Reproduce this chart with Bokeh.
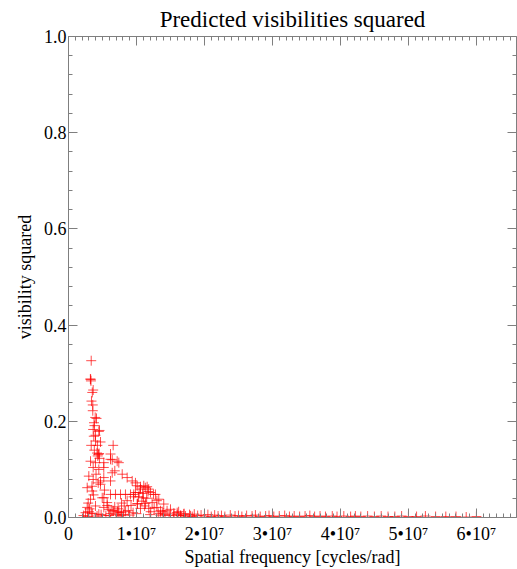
from bokeh.plotting import figure
from bokeh.models import Range1d, LinearAxis, FixedTicker, ColumnDataSource
from bokeh.embed import file_html
from bokeh.resources import INLINE

# Spatial frequency in units of 1e7 cycles/rad, visibility squared
freq_e7 = [
    0.334, 0.322, 0.330, 0.326, 0.350, 0.363, 0.338, 0.357, 0.357, 0.393, 0.412,
    0.375, 0.382, 0.456, 0.363, 0.397, 0.446, 0.372, 0.397, 0.471, 0.334, 0.657,
    0.420, 0.440, 0.450, 0.430, 0.618, 0.618, 0.643, 0.324, 0.397, 0.519, 0.716,
    0.740, 0.363, 0.446, 0.519, 0.643, 0.681, 0.790, 0.863, 0.299, 0.363, 0.519,
    0.471, 0.618, 0.937, 1.010, 0.275, 0.349, 0.529, 0.618, 0.691, 0.765, 0.838,
    0.912, 0.985, 0.324, 0.496, 0.569, 0.275, 0.397, 0.519, 0.593, 0.250, 0.446,
    0.660, 0.720, 0.780, 0.840, 0.700, 0.760, 0.620, 1.010,
    0.985, 1.059, 1.107, 1.157, 1.206, 1.279, 1.328, 1.401, 1.500, 1.599,
    1.696, 1.794, 0.956, 1.030, 1.103, 1.015, 1.132, 1.230, 1.059, 1.180, 1.300,
    1.353, 1.450,
    0.863, 0.960, 1.059, 1.130, 1.180, 1.250, 1.300, 0.470, 0.520, 0.570, 0.640, 0.740,
    0.220, 0.280, 0.300, 0.350, 0.420, 0.480, 0.550, 0.900, 1.000, 1.200, 1.350,
    1.400, 1.480,
    0.290, 0.310, 0.335, 0.345, 0.368, 0.380, 0.405, 0.425, 0.437, 0.455, 0.600,
    0.680, 0.730, 0.810, 0.880, 0.920, 0.950, 1.040, 1.080, 1.120, 1.150, 1.210,
    1.260, 1.320, 1.380, 1.420, 1.550, 1.650, 0.780, 0.820, 1.090, 1.170,
    1.55, 1.60, 1.62, 1.65, 1.70, 1.72, 1.78, 1.82, 1.85, 1.90, 1.95, 2.00, 2.05,
    2.10, 2.15, 2.20, 2.25, 2.30, 2.38, 2.45, 2.50, 2.55, 2.62, 2.70, 2.75, 2.82,
    2.90, 2.95, 3.02, 3.10, 3.18, 3.25, 3.32, 3.40, 3.48, 3.55, 3.62, 3.70, 3.78,
    3.88, 3.95, 4.05, 4.15, 4.22, 4.30, 4.40, 4.50, 4.60, 4.70, 4.80, 4.90, 5.00,
    5.12, 5.25, 5.40, 5.55, 5.70, 5.85, 6.00,
]
vis2 = [
    0.326, 0.288, 0.284, 0.287, 0.260, 0.265, 0.242, 0.234, 0.222, 0.208, 0.206,
    0.197, 0.191, 0.181, 0.183, 0.171, 0.179, 0.169, 0.159, 0.157, 0.150, 0.150,
    0.134, 0.131, 0.133, 0.128, 0.132, 0.121, 0.120, 0.117, 0.114, 0.114, 0.117,
    0.114, 0.104, 0.100, 0.104, 0.093, 0.097, 0.090, 0.083, 0.086, 0.079, 0.083,
    0.076, 0.076, 0.076, 0.066, 0.062, 0.055, 0.057, 0.048, 0.048, 0.048, 0.048,
    0.048, 0.052, 0.038, 0.041, 0.031, 0.021, 0.024, 0.021, 0.017, 0.010, 0.007,
    0.014, 0.012, 0.010, 0.013, 0.006, 0.004, 0.008, 0.028,
    0.072, 0.064, 0.066, 0.064, 0.052, 0.048, 0.038, 0.028, 0.017, 0.010,
    0.007, 0.0035, 0.043, 0.043, 0.041, 0.029, 0.029, 0.031, 0.019, 0.019, 0.021,
    0.014, 0.014,
    0.035, 0.048, 0.059, 0.062, 0.059, 0.048, 0.035, 0.069, 0.041, 0.025, 0.014, 0.010,
    0.004, 0.002, 0.012, 0.008, 0.003, 0.006, 0.004, 0.005, 0.008, 0.006, 0.005,
    0.009, 0.004,
    0.030, 0.018, 0.009, 0.065, 0.047, 0.140, 0.090, 0.150, 0.072, 0.123, 0.004,
    0.022, 0.018, 0.006, 0.014, 0.025, 0.010, 0.052, 0.034, 0.024, 0.040, 0.012,
    0.020, 0.008, 0.012, 0.006, 0.005, 0.004, 0.030, 0.024, 0.050, 0.054,
    0.009, 0.006, 0.012, 0.004, 0.008, 0.003, 0.006, 0.002, 0.007, 0.004, 0.005,
    0.003, 0.006, 0.002, 0.005, 0.003, 0.004, 0.002, 0.005, 0.003, 0.004, 0.002,
    0.004, 0.003, 0.005, 0.002, 0.003, 0.004, 0.002, 0.003, 0.004, 0.002, 0.003,
    0.002, 0.003, 0.004, 0.002, 0.003, 0.002, 0.003, 0.002, 0.003, 0.002, 0.003,
    0.002, 0.003, 0.002, 0.003, 0.002, 0.002, 0.003, 0.002, 0.002, 0.003, 0.002,
    0.002, 0.002, 0.001, 0.002,
]

x_ticks = [0, 1e7, 2e7, 3e7, 4e7, 5e7, 6e7]
x_tick_labels = ["0", "1•10⁷", "2•10⁷", "3•10⁷", "4•10⁷", "5•10⁷", "6•10⁷"]
y_ticks = [0.0, 0.2, 0.4, 0.6, 0.8, 1.0]
y_tick_labels = ["0.0", "0.2", "0.4", "0.6", "0.8", "1.0"]

freq = [f * 1e7 for f in freq_e7]
src = ColumnDataSource(dict(x=freq, y=vis2))

FONT = "Liberation Serif"
AXIS_COLOR = "#7f7f7f"

p = figure(width=517, height=569, output_backend="svg", toolbar_location=None,
           x_range=Range1d(0, 6.59e7), y_range=Range1d(0, 1.0),
           x_axis_location=None, y_axis_location=None,
           min_border_left=68, min_border_right=1, min_border_top=0,
           min_border_bottom=49, outline_line_color=None,
           title="Predicted visibilities squared")
p.title.text_font = FONT
p.title.text_font_size = "23px"
p.title.text_font_style = "normal"
p.title.align = "center"
p.title.text_color = "black"
p.title.offset = 0
p.title.standoff = 9
p.grid.visible = False

x_minor = [i * 1e6 for i in range(0, 66)]
y_minor = [i * 0.04 for i in range(0, 26)]

def style(ax, labels):
    ax.axis_line_color = AXIS_COLOR
    ax.major_tick_line_color = AXIS_COLOR
    ax.minor_tick_line_color = AXIS_COLOR
    ax.major_tick_in = 9
    ax.major_tick_out = 0
    ax.minor_tick_in = 4
    ax.minor_tick_out = 0
    ax.major_label_text_font = FONT
    ax.axis_label_text_font = FONT
    ax.axis_label_text_font_style = "normal"
    ax.axis_label_text_color = "black"
    ax.major_label_text_color = "black"
    if not labels:
        ax.major_label_overrides = {t: "" for t in ax.ticker.ticks}
        ax.major_label_standoff = 0

bx = LinearAxis(ticker=FixedTicker(ticks=x_ticks, minor_ticks=x_minor),
                axis_label="Spatial frequency [cycles/rad]")
style(bx, True)
bx.major_label_overrides = {t: l for t, l in zip(x_ticks, x_tick_labels)}
bx.major_label_text_font_size = "18px"
bx.axis_label_text_font_size = "18px"
bx.major_label_standoff = 6
bx.axis_label_standoff = 0
p.add_layout(bx, "below")

tx = LinearAxis(ticker=FixedTicker(ticks=x_ticks, minor_ticks=x_minor))
style(tx, False)
p.add_layout(tx, "above")

ly = LinearAxis(ticker=FixedTicker(ticks=y_ticks, minor_ticks=y_minor),
                axis_label="visibility squared")
style(ly, True)
ly.major_label_overrides = {t: l for t, l in zip(y_ticks, y_tick_labels)}
ly.major_label_text_font_size = "18px"
ly.axis_label_text_font_size = "18px"
ly.major_label_standoff = 2
ly.axis_label_standoff = 6
p.add_layout(ly, "left")

ry = LinearAxis(ticker=FixedTicker(ticks=y_ticks, minor_ticks=y_minor))
style(ry, False)
p.add_layout(ry, "right")

p.scatter("x", "y", source=src, marker="cross", size=10,
          line_color="red", line_alpha=0.7, line_width=1)

open("out.html", "w").write(file_html(p, INLINE))
